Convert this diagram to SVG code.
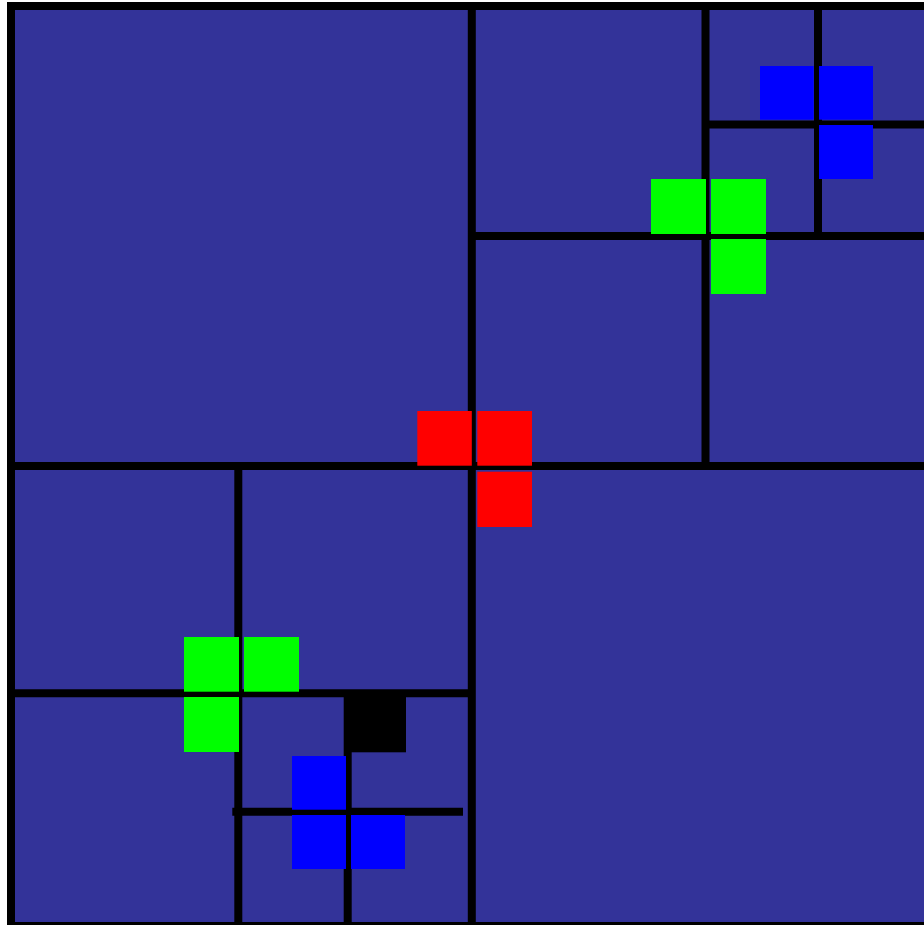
<svg xmlns="http://www.w3.org/2000/svg" width="924" height="925" viewBox="0 0 924 925">
  <style>
    .board { fill: #333399; stroke: #000000; stroke-width: 8; }
    .cut { stroke: #000000; stroke-width: 8; fill: none; }
    .red { fill: #ff0000; }
    .green { fill: #00ff00; }
    .blue { fill: #0000ff; }
    .hole { fill: #000000; }
  </style>
  <rect width="924" height="925" fill="#ffffff"/>
  <g id="board">
    <rect class="board" x="11" y="6" width="920" height="920"/>
  </g>
  <g id="connectors">
    <line class="cut" x1="471.8" y1="6" x2="471.8" y2="926"/>
    <line class="cut" x1="11" y1="466" x2="931" y2="466"/>
    <line class="cut" x1="705.5" y1="6" x2="705.5" y2="466"/>
    <line class="cut" x1="471.8" y1="236" x2="931" y2="236"/>
    <line class="cut" x1="818" y1="6" x2="818" y2="236"/>
    <line class="cut" x1="705.5" y1="124.5" x2="931" y2="124.5"/>
    <line class="cut" x1="238.3" y1="466" x2="238.3" y2="926"/>
    <line class="cut" x1="11" y1="693.3" x2="471.8" y2="693.3"/>
    <line class="cut" x1="347.7" y1="693.3" x2="347.7" y2="926"/>
    <line class="cut" x1="232.3" y1="811.8" x2="463" y2="811.8"/>
  </g>
  <g id="tromino-red">
    <rect class="red" x="417.3" y="411" width="54.5" height="54.7"/>
    <rect class="red" x="477.3" y="411" width="54.7" height="54.7"/>
    <rect class="red" x="477.3" y="471.7" width="54.7" height="55.3"/>
  </g>
  <g id="tromino-green-top">
    <rect class="green" x="651" y="179" width="55" height="55"/>
    <rect class="green" x="711" y="179" width="55" height="55"/>
    <rect class="green" x="711" y="239" width="55" height="55"/>
  </g>
  <g id="tromino-blue-top">
    <rect class="blue" x="760" y="66" width="53.7" height="53.7"/>
    <rect class="blue" x="819" y="66" width="54" height="53.7"/>
    <rect class="blue" x="819" y="125" width="54" height="54"/>
  </g>
  <g id="tromino-green-bottom">
    <rect class="green" x="184" y="637" width="55" height="54.7"/>
    <rect class="green" x="244" y="637" width="55" height="54.7"/>
    <rect class="green" x="184" y="697" width="55" height="55"/>
  </g>
  <g id="hole">
    <rect class="hole" x="351" y="697" width="55" height="55.3"/>
  </g>
  <g id="tromino-blue-bottom">
    <rect class="blue" x="292" y="756" width="54" height="53.7"/>
    <rect class="blue" x="292" y="815" width="54" height="54"/>
    <rect class="blue" x="351" y="815" width="54" height="54"/>
  </g>
</svg>
